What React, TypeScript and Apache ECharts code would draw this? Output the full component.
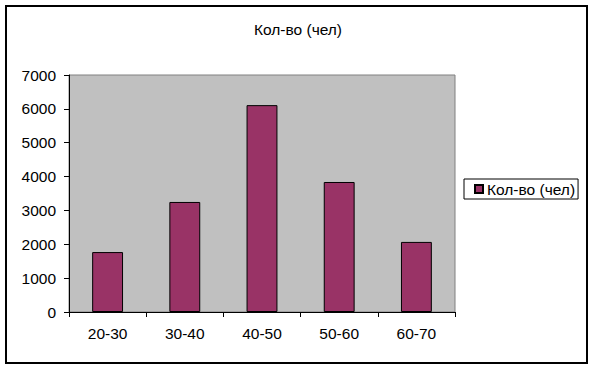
import React, { useEffect, useRef } from "react";
import * as echarts from "echarts";

const categories = ["20-30", "30-40", "40-50", "50-60", "60-70"];
const values = [1770, 3250, 6110, 3840, 2070];
const seriesName = "Кол-во (чел)";
const titleText = "Кол-во (чел)";

const FONT = "'Liberation Sans', Arial, sans-serif";
const FS = 15.5;

export default function App() {
  const ref = useRef<HTMLDivElement>(null);
  useEffect(() => {
    if (!ref.current) return;
    const chart = echarts.init(ref.current, undefined, { renderer: "svg" });
    chart.setOption({
      animation: false,
      backgroundColor: "#ffffff",
      textStyle: { fontFamily: FONT },
      title: {
        text: titleText,
        left: "center",
        top: 16,
        textStyle: { fontFamily: FONT, fontSize: FS, fontWeight: "normal", color: "#000" },
      },
      graphic: [
        {
          type: "rect",
          shape: { x: 6, y: 6, width: 581, height: 357 },
          style: { fill: "none", stroke: "#000", lineWidth: 2 },
          z: 100,
        },
      ],
      legend: {
        data: [seriesName],
        left: 464,
        top: 179,
        orient: "vertical",
        padding: [2, 3, 2, 10],
        borderColor: "#000",
        borderWidth: 1,
        itemWidth: 8,
        itemHeight: 8,
        itemGap: 0,
        icon: "rect",
        textStyle: { fontFamily: FONT, fontSize: FS, color: "#000", padding: [0, 0, 0, -1] },
      },
      grid: {
        left: 69,
        right: 141,
        top: 75,
        bottom: 58,
        show: true,
        backgroundColor: "#c0c0c0",
        borderColor: "#808080",
        borderWidth: 1,
      },
      xAxis: {
        type: "category",
        data: categories,
        boundaryGap: true,
        axisLine: { show: true, lineStyle: { color: "#000", width: 1 } },
        axisTick: { show: true, inside: false, length: 5, alignWithLabel: false, lineStyle: { color: "#000" } },
        axisLabel: { color: "#000", fontSize: FS, fontFamily: FONT, margin: 13 },
        splitLine: { show: false },
      },
      yAxis: {
        type: "value",
        min: 0,
        max: 7000,
        interval: 1000,
        axisLine: { show: true, lineStyle: { color: "#000", width: 1 } },
        axisTick: { show: true, inside: false, length: 5, lineStyle: { color: "#000" } },
        axisLabel: {
          color: "#000",
          fontSize: FS,
          fontFamily: FONT,
          margin: 13,
          formatter: (v: number) => String(v),
        },
        splitLine: { show: false },
      },
      series: [
        {
          name: seriesName,
          type: "bar",
          data: values,
          barWidth: "40%",
          itemStyle: { color: "#993366", borderColor: "#000", borderWidth: 1 },
        },
      ],
    });
    return () => chart.dispose();
  }, []);
  return (
    <div
      ref={ref}
      style={{ position: "fixed", left: 0, top: 0, width: 596, height: 370 }}
    />
  );
}
